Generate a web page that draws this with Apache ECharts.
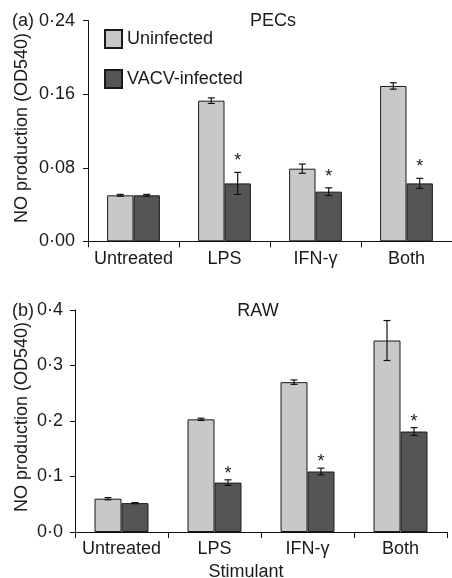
<!DOCTYPE html>
<html><head><meta charset="utf-8">
<script src="https://cdn.jsdelivr.net/npm/echarts@6/dist/echarts.min.js"></script>
<style>html,body{margin:0;padding:0;background:#fff}#c{width:452px;height:578px}</style>
</head><body><div id="c"></div>
<script>
var categories = ['Untreated', 'LPS', 'IFN-γ', 'Both'];
var seriesNames = ['Uninfected', 'VACV-infected'];
// Panel (a) PECs
var pecUninfected = [0.050, 0.153, 0.079, 0.169];
var pecUninfectedErr = [0.001, 0.003, 0.005, 0.0035];
var pecInfected = [0.050, 0.063, 0.054, 0.063];
var pecInfectedErr = [0.001, 0.012, 0.0042, 0.0055];
var pecStar = [false, true, true, true];
var pecTicks = {min: 0, max: 0.24, interval: 0.08, decimals: 2};
// Panel (b) RAW
var rawUninfected = [0.060, 0.203, 0.270, 0.345];
var rawUninfectedErr = [0.002, 0.002, 0.004, 0.036];
var rawInfected = [0.052, 0.089, 0.109, 0.181];
var rawInfectedErr = [0.001, 0.005, 0.006, 0.007];
var rawStar = [false, true, true, true];
var rawTicks = {min: 0, max: 0.4, interval: 0.1, decimals: 1};

var FONT = '"Liberation Sans", Arial, Helvetica, sans-serif';
var LIGHT = '#c8c8c8', DARK = '#555555', EDGE = '#1a1a1a', TXT = '#1a1a1a';
var GAP = 0.42;

function errSeries(gridIdx, vals, errs, side, stars, starOff) {
  var data = vals.map(function (v, i) { return [i, v, errs[i], stars ? (stars[i] ? 1 : 0) : 0]; });
  return {
    type: 'custom', xAxisIndex: gridIdx, yAxisIndex: gridIdx, z: 10, silent: true,
    data: data,
    renderItem: function (params, api) {
      var i = api.value(0), v = api.value(1), e = api.value(2), s = api.value(3);
      var catW = api.size([1, 0])[0];
      var bw = catW * (1 - GAP) / 2;
      var c = api.coord([i, v]);
      var x = c[0] + side * bw / 2;
      var top = api.coord([i, v + e])[1];
      var bot = api.coord([i, v - e])[1];
      var cap = 3.5;
      var st = {stroke: '#111', lineWidth: 1.2};
      var ch = [
        {type: 'line', shape: {x1: x, y1: top, x2: x, y2: bot}, style: st},
        {type: 'line', shape: {x1: x - cap, y1: top, x2: x + cap, y2: top}, style: st},
        {type: 'line', shape: {x1: x - cap, y1: bot, x2: x + cap, y2: bot}, style: st}
      ];
      if (s) {
        ch.push({type: 'text', x: x, y: top - starOff, style: {text: '*', fill: TXT, font: '18px ' + FONT, textAlign: 'center', textVerticalAlign: 'bottom'}});
      }
      return {type: 'group', children: ch};
    }
  };
}

function yAxis(gridIdx, t, margin) {
  return {
    type: 'value', gridIndex: gridIdx, min: t.min, max: t.max, interval: t.interval,
    axisLine: {show: true, lineStyle: {color: '#111', width: 1}},
    axisTick: {show: true, length: 5, lineStyle: {color: '#111'}},
    splitLine: {show: false},
    axisLabel: {margin: margin, color: TXT, fontSize: 18, fontFamily: FONT,
      formatter: function (v) { return v.toFixed(t.decimals).replace('.', '·'); }}
  };
}
function xAxis(gridIdx, margin) {
  return {
    type: 'category', gridIndex: gridIdx, data: categories,
    axisLine: {show: true, lineStyle: {color: '#111', width: 1}},
    axisTick: {show: true, length: 6, lineStyle: {color: '#111'}},
    axisLabel: {margin: margin, color: TXT, fontSize: 18, fontFamily: FONT, interval: 0}
  };
}
function bar(gridIdx, name, vals, color) {
  return {
    type: 'bar', name: name, xAxisIndex: gridIdx, yAxisIndex: gridIdx,
    data: vals, barGap: '0%', barCategoryGap: (GAP * 100) + '%',
    itemStyle: {color: color, borderColor: EDGE, borderWidth: 1}
  };
}

var chart = echarts.init(document.getElementById('c'), null, {renderer: 'canvas'});
chart.setOption({
  animation: false,
  backgroundColor: '#fff',
  grid: [
    {left: 88, right: -4, top: 20.7, height: 220.6},
    {left: 75, right: 5, top: 310, height: 222}
  ],
  xAxis: [xAxis(0, 9), xAxis(1, 8)],
  yAxis: [yAxis(0, pecTicks, 13), yAxis(1, rawTicks, 12)],
  legend: {
    data: seriesNames, orient: 'vertical', left: 104, top: 29, padding: 0, itemWidth: 17, itemHeight: 18,
    itemGap: 20, icon: 'rect', selectedMode: false,
    textStyle: {color: TXT, fontSize: 18, fontFamily: FONT}
  },
  title: [
    {text: 'PECs', left: 273, top: 12, padding: 0, textAlign: 'center', textStyle: {color: TXT, fontSize: 18, fontWeight: 'normal', fontFamily: FONT}},
    {text: 'RAW', left: 258, top: 302, padding: 0, textAlign: 'center', textStyle: {color: TXT, fontSize: 18, fontWeight: 'normal', fontFamily: FONT}}
  ],
  graphic: [
    {type: 'text', x: 12, y: 21, style: {text: '(a)', fill: TXT, font: '18px ' + FONT, textVerticalAlign: 'middle'}},
    {type: 'text', x: 12, y: 310.7, style: {text: '(b)', fill: TXT, font: '18px ' + FONT, textVerticalAlign: 'middle'}},
    {type: 'text', x: 22, y: 128, rotation: Math.PI / 2, style: {text: 'NO production (OD540)', fill: TXT, font: '18px ' + FONT, textAlign: 'center', textVerticalAlign: 'middle'}},
    {type: 'text', x: 22, y: 417, rotation: Math.PI / 2, style: {text: 'NO production (OD540)', fill: TXT, font: '18px ' + FONT, textAlign: 'center', textVerticalAlign: 'middle'}},
    {type: 'text', x: 246, y: 571.7, style: {text: 'Stimulant', fill: TXT, font: '18px ' + FONT, textAlign: 'center', textVerticalAlign: 'middle'}}
  ],
  series: [
    bar(0, seriesNames[0], pecUninfected, LIGHT),
    bar(0, seriesNames[1], pecInfected, DARK),
    bar(1, seriesNames[0], rawUninfected, LIGHT),
    bar(1, seriesNames[1], rawInfected, DARK),
    errSeries(0, pecUninfected, pecUninfectedErr, -1, null, 0),
    errSeries(0, pecInfected, pecInfectedErr, 1, pecStar, 2),
    errSeries(1, rawUninfected, rawUninfectedErr, -1, null, 0),
    errSeries(1, rawInfected, rawInfectedErr, 1, rawStar, -3)
  ]
});
</script></body></html>
